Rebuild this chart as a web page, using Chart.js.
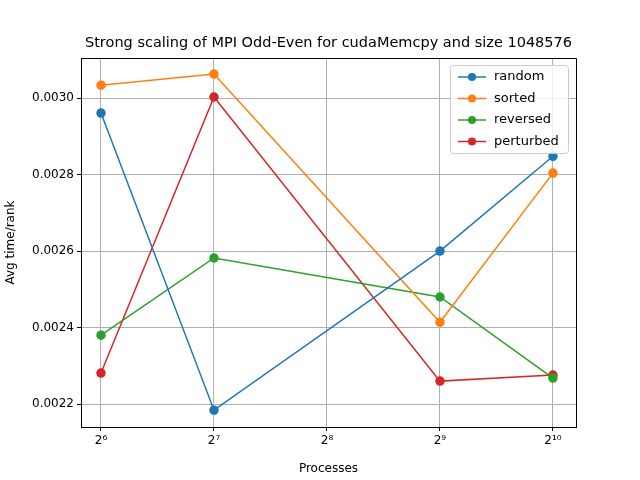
<!DOCTYPE html>
<html><head><script src="https://cdn.jsdelivr.net/npm/chart.js"></script>
<style>body{margin:0;background:#fff}</style></head><body>
<canvas id="c" width="640" height="480" style="width:640px;height:480px"></canvas>
<script>
const processes=[64,128,512,1024];
const xTicks=[64,128,256,512,1024];
const xTickLabels=['2⁶','2⁷','2⁸','2⁹','2¹⁰'];
const yTicks=[0.0022,0.0024,0.0026,0.0028,0.0030];
const random=[0.002961,0.002184,0.002600,0.002848];
const sorted=[0.003034,0.003063,0.002414,0.002804];
const reversed=[0.002380,0.002582,0.002480,0.002268];
const perturbed=[0.002281,0.003003,0.002260,0.002276];
const names=['random','sorted','reversed','perturbed'];
const colors=['#1f77b4','#ff7f0e','#2ca02c','#d62728'];
const series=[random,sorted,reversed,perturbed];
const titleText='Strong scaling of MPI Odd-Even for cudaMemcpy and size 1048576';
const F='DejaVu Sans';
const legendPlugin={id:'lg',afterDraw(ch){const c=ch.ctx,a=ch.chartArea;const w=118,h=88,x=a.right-8-w,y=a.top+7;
c.save();
c.strokeStyle='#000';c.lineWidth=1;c.beginPath();c.moveTo(a.left,a.top+.5);c.lineTo(a.right+.5,a.top+.5);c.lineTo(a.right+.5,a.bottom);c.stroke();
c.fillStyle='#000';c.font='14.5px '+F;c.textAlign='center';c.textBaseline='middle';c.fillText(titleText,(a.left+a.right)/2,a.top-15);
c.textAlign='left';
c.fillStyle='rgba(255,255,255,0.8)';c.strokeStyle='#ccc';c.beginPath();c.roundRect(x+.5,y+.5,w,h,3);c.fill();c.stroke();
c.font='13px '+F;
names.forEach((n,i)=>{const yy=y+12+i*21.5;c.strokeStyle=colors[i];c.lineWidth=1.5;c.beginPath();c.moveTo(x+8,yy);c.lineTo(x+36,yy);c.stroke();
c.fillStyle=colors[i];c.beginPath();c.arc(x+22,yy,4,0,Math.PI*2);c.fill();c.fillStyle='#000';c.fillText(n,x+44,yy);});c.restore();}};
new Chart(document.getElementById('c'),{type:'line',
data:{datasets:series.map((s,i)=>({label:names[i],data:s.map((v,j)=>({x:processes[j],y:v})),borderColor:colors[i],backgroundColor:colors[i],borderWidth:1.5,pointRadius:4,pointHoverRadius:4}))},
options:{responsive:false,animation:false,devicePixelRatio:1,
layout:{padding:{left:0,right:64,top:58,bottom:0}},
plugins:{legend:{display:false},tooltip:{enabled:false},title:{display:false}},
scales:{
x:{type:'logarithmic',min:Math.pow(2,5.823),max:Math.pow(2,10.204),
afterBuildTicks(s){s.ticks=xTicks.map(v=>({value:v}));},
afterFit(s){s.height=53;},
ticks:{color:'#000',font:{family:F,size:12},autoSkip:false,maxRotation:0,callback:(v)=>xTickLabels[xTicks.indexOf(v)]},
grid:{color:'#b0b0b0',tickColor:'#000',tickLength:4,drawTicks:true},border:{color:'#000'},
title:{display:true,text:'Processes',color:'#000',font:{family:F,size:12},padding:{top:2}}},
y:{min:0.00214,max:0.003105,
afterBuildTicks(s){s.ticks=yTicks.map(v=>({value:v}));},
afterFit(s){s.width=81;},
ticks:{color:'#000',font:{family:F,size:12},callback:v=>v.toFixed(4)},
grid:{color:'#b0b0b0',tickColor:'#000',tickLength:4},border:{color:'#000'},
title:{display:true,text:'Avg time/rank',color:'#000',font:{family:F,size:12},padding:{bottom:2}}}}},
plugins:[legendPlugin]});
</script></body></html>
